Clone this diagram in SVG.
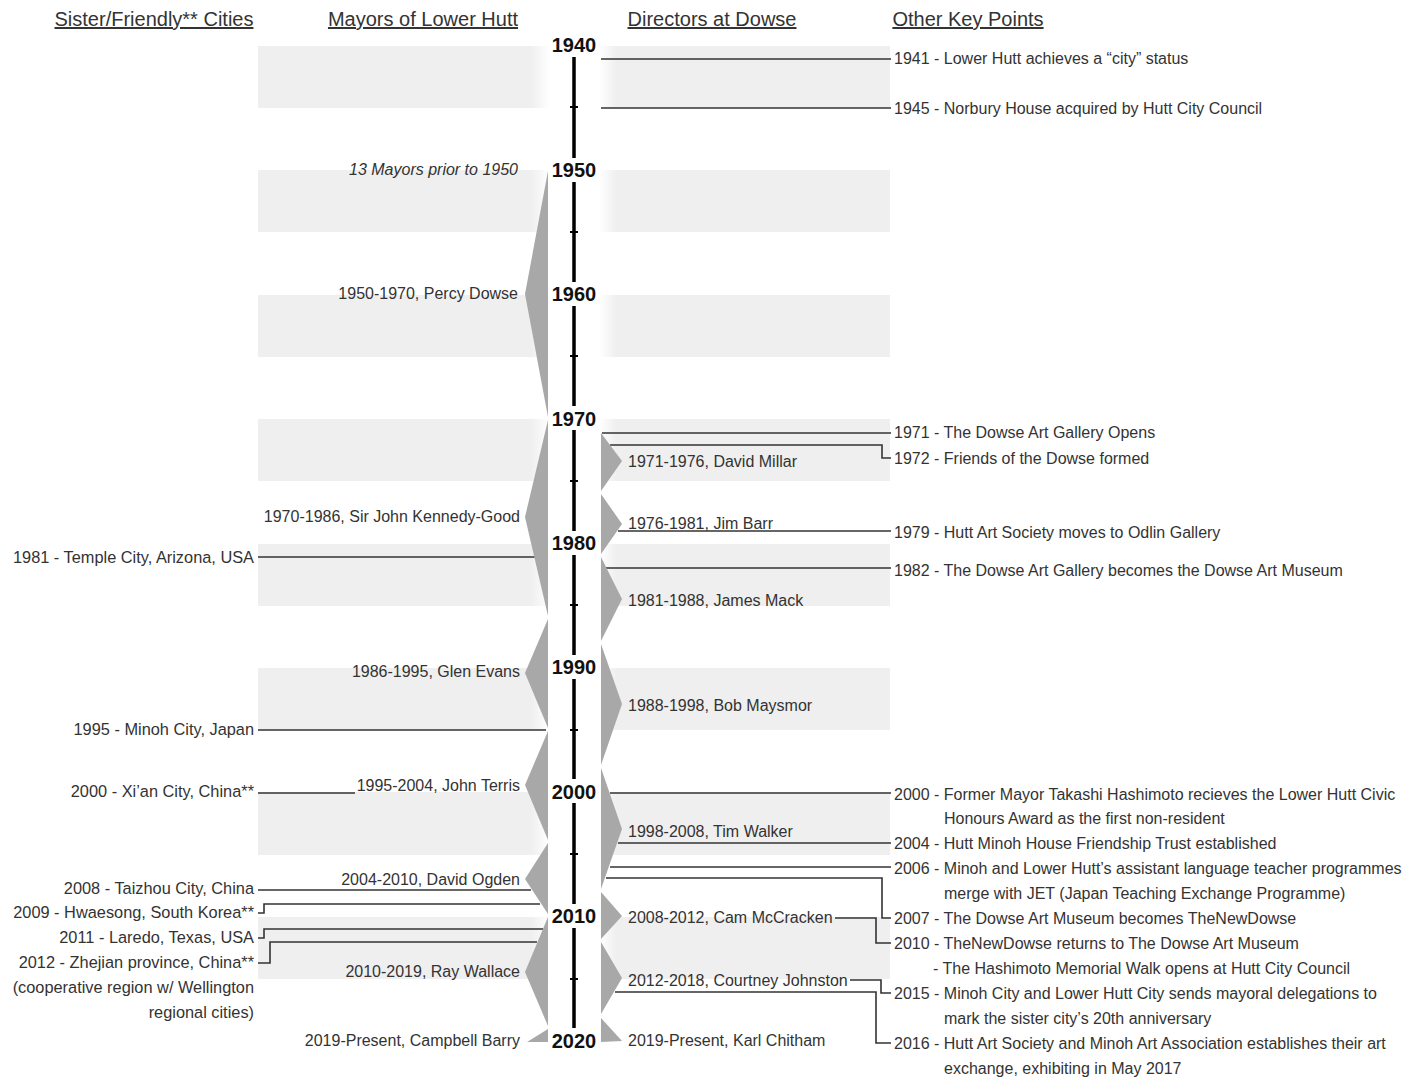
<svg xmlns="http://www.w3.org/2000/svg" width="1404" height="1078" viewBox="0 0 1404 1078">
<style>
text{font-family:"Liberation Sans",Arial,Helvetica,sans-serif;fill:#333;font-size:16px}
.h{font-size:20px;text-decoration:underline;text-anchor:middle}
.yr{font-size:20px;font-weight:bold;fill:#111;text-anchor:middle}
.r{text-anchor:end}
.c{font-size:16.35px}
.it{font-style:italic}
.band{fill:url(#bandg)}
.tri{fill:#a8a8a8}
.ax{stroke:#000;stroke-width:3.5;fill:none}
.tk{stroke:#000;stroke-width:2}
.cn{stroke:#333;stroke-width:1.6;fill:none}
</style>
<defs>
<linearGradient id="bandg" gradientUnits="userSpaceOnUse" x1="258" y1="0" x2="890" y2="0">
<stop offset="0" stop-color="#efefef"/>
<stop offset="0.432" stop-color="#efefef"/>
<stop offset="0.462" stop-color="#ffffff"/>
<stop offset="0.54" stop-color="#ffffff"/>
<stop offset="0.567" stop-color="#efefef"/>
<stop offset="1" stop-color="#efefef"/>
</linearGradient>
</defs>
<rect width="1404" height="1078" fill="#fff"/>
<g id="bands">
<rect class="band" x="258" y="46" width="632" height="62"/>
<rect class="band" x="258" y="170" width="632" height="62"/>
<rect class="band" x="258" y="295" width="632" height="62"/>
<rect class="band" x="258" y="419" width="632" height="62"/>
<rect class="band" x="258" y="544" width="632" height="62"/>
<rect class="band" x="258" y="668" width="632" height="62"/>
<rect class="band" x="258" y="792" width="632" height="63"/>
<rect class="band" x="258" y="917" width="632" height="62"/>
</g>
<g id="headers">
<text class="h" x="154" y="26">Sister/Friendly** Cities</text>
<text class="h" x="423" y="26">Mayors of Lower Hutt</text>
<text class="h" x="712" y="26">Directors at Dowse</text>
<text class="h" x="968" y="26">Other Key Points</text>
</g>
<g id="axis">
<path class="ax" d="M574,57V158M574,182V282M574,306V406M574,430V531M574,555V655M574,679V779M574,803V904M574,928V1028"/>
<path class="tk" d="M570,107H578M570,232H578M570,356H578M570,481H578M570,605H578M570,730H578M570,854H578M570,979H578"/>
<text class="yr" x="574" y="52">1940</text>
<text class="yr" x="574" y="177">1950</text>
<text class="yr" x="574" y="301">1960</text>
<text class="yr" x="574" y="426">1970</text>
<text class="yr" x="574" y="550">1980</text>
<text class="yr" x="574" y="674">1990</text>
<text class="yr" x="574" y="799">2000</text>
<text class="yr" x="574" y="923">2010</text>
<text class="yr" x="574" y="1048">2020</text>
</g>
<g id="connectors">
<path class="cn" d="M258,557H536"/>
<path class="cn" d="M258,730H546"/>
<path class="cn" d="M258,793H355"/>
<path class="cn" d="M258,890H531"/>
<path class="cn" d="M258,913H264V904H540"/>
<path class="cn" d="M258,938H264V929H543"/>
<path class="cn" d="M258,963H270V942H537"/>
<path class="cn" d="M601,59H891"/>
<path class="cn" d="M601,108H891"/>
<path class="cn" d="M602,433H891"/>
<path class="cn" d="M610,445H882V458H891"/>
<path class="cn" d="M618,531H891"/>
<path class="cn" d="M606,568H891"/>
<path class="cn" d="M610,793H891"/>
<path class="cn" d="M618,843H891"/>
<path class="cn" d="M610,867H891"/>
<path class="cn" d="M606,878H882V918H891"/>
<path class="cn" d="M835,918H876V943H891"/>
<path class="cn" d="M850,980H881V993H891"/>
<path class="cn" d="M615,992H876V1043H891"/>
</g>
<g id="mayor-prior"><text class="r it" x="518" y="175">13 Mayors prior to 1950</text></g>
<g id="mayor-dowse"><polygon class="tri" points="548,171 525,294 548,417"/><text class="r" x="518" y="299">1950-1970, Percy Dowse</text></g>
<g id="mayor-kennedy-good"><polygon class="tri" points="548,420 525,517 548,616"/><text class="r" x="520" y="522">1970-1986, Sir John Kennedy-Good</text></g>
<g id="mayor-evans"><polygon class="tri" points="548,619 525,673 548,728"/><text class="r" x="520" y="677">1986-1995, Glen Evans</text></g>
<g id="mayor-terris"><polygon class="tri" points="548,731 525,785 548,840"/><text class="r" x="520" y="791">1995-2004, John Terris</text></g>
<g id="mayor-ogden"><polygon class="tri" points="548,843 525,879 548,914"/><text class="r" x="520" y="885">2004-2010, David Ogden</text></g>
<g id="mayor-wallace"><polygon class="tri" points="548,917 525,972 548,1026"/><text class="r" x="520" y="977">2010-2019, Ray Wallace</text></g>
<g id="mayor-barry"><polygon class="tri" points="548,1029 548,1042 527,1042"/><text class="r" x="520" y="1046">2019-Present, Campbell Barry</text></g>
<g id="director-millar"><polygon class="tri" points="601,433 622,461 601,491"/><text x="628" y="467">1971-1976, David Millar</text></g>
<g id="director-barr"><polygon class="tri" points="601,494 622,524 601,554"/><text x="628" y="529">1976-1981, Jim Barr</text></g>
<g id="director-mack"><polygon class="tri" points="601,557 622,599 601,641"/><text x="628" y="606">1981-1988, James Mack</text></g>
<g id="director-maysmor"><polygon class="tri" points="601,644 622,704 601,765"/><text x="628" y="711">1988-1998, Bob Maysmor</text></g>
<g id="director-walker"><polygon class="tri" points="601,768 622,829 601,889"/><text x="628" y="837">1998-2008, Tim Walker</text></g>
<g id="director-mccracken"><polygon class="tri" points="601,892 622,916 601,939"/><text x="628" y="923">2008-2012, Cam McCracken</text></g>
<g id="director-johnston"><polygon class="tri" points="601,942 622,978 601,1014"/><text x="628" y="986">2012-2018, Courtney Johnston</text></g>
<g id="director-chitham"><polygon class="tri" points="601,1018 622,1041 601,1042"/><text x="628" y="1046">2019-Present, Karl Chitham</text></g>
<g id="city-temple"><text class="r c" x="254" y="563">1981 - Temple City, Arizona, USA</text></g>
<g id="city-minoh"><text class="r c" x="254" y="735">1995 - Minoh City, Japan</text></g>
<g id="city-xian"><text class="r c" x="254" y="797">2000 - Xi’an City, China**</text></g>
<g id="city-taizhou"><text class="r c" x="254" y="894">2008 - Taizhou City, China</text></g>
<g id="city-hwaesong"><text class="r c" x="254" y="918">2009 - Hwaesong, South Korea**</text></g>
<g id="city-laredo"><text class="r c" x="254" y="943">2011 - Laredo, Texas, USA</text></g>
<g id="city-zhejian"><text class="r c" x="254" y="968">2012 - Zhejian province, China**</text><text class="r c" x="254" y="993">(cooperative region w/ Wellington</text><text class="r c" x="254" y="1018">regional cities)</text></g>
<g id="kp-1941"><text x="894" y="64">1941 - Lower Hutt achieves a “city” status</text></g>
<g id="kp-1945"><text x="894" y="114">1945 - Norbury House acquired by Hutt City Council</text></g>
<g id="kp-1971"><text x="894" y="438">1971 - The Dowse Art Gallery Opens</text></g>
<g id="kp-1972"><text x="894" y="464">1972 - Friends of the Dowse formed</text></g>
<g id="kp-1979"><text x="894" y="538">1979 - Hutt Art Society moves to Odlin Gallery</text></g>
<g id="kp-1982"><text x="894" y="576">1982 - The Dowse Art Gallery becomes the Dowse Art Museum</text></g>
<g id="kp-2000"><text x="894" y="800">2000 - Former Mayor Takashi Hashimoto recieves the Lower Hutt Civic</text><text x="944" y="824">Honours Award as the first non-resident</text></g>
<g id="kp-2004"><text x="894" y="849">2004 - Hutt Minoh House Friendship Trust established</text></g>
<g id="kp-2006"><text x="894" y="874">2006 - Minoh and Lower Hutt’s assistant language teacher programmes</text><text x="944" y="899">merge with JET (Japan Teaching Exchange Programme)</text></g>
<g id="kp-2007"><text x="894" y="924">2007 - The Dowse Art Museum becomes TheNewDowse</text></g>
<g id="kp-2010"><text x="894" y="949">2010 - TheNewDowse returns to The Dowse Art Museum</text><text x="933" y="974">- The Hashimoto Memorial Walk opens at Hutt City Council</text></g>
<g id="kp-2015"><text x="894" y="999">2015 - Minoh City and Lower Hutt City sends mayoral delegations to</text><text x="944" y="1024">mark the sister city’s 20th anniversary</text></g>
<g id="kp-2016"><text x="894" y="1049">2016 - Hutt Art Society and Minoh Art Association establishes their art</text><text x="944" y="1074">exchange, exhibiting in May 2017</text></g>
</svg>
